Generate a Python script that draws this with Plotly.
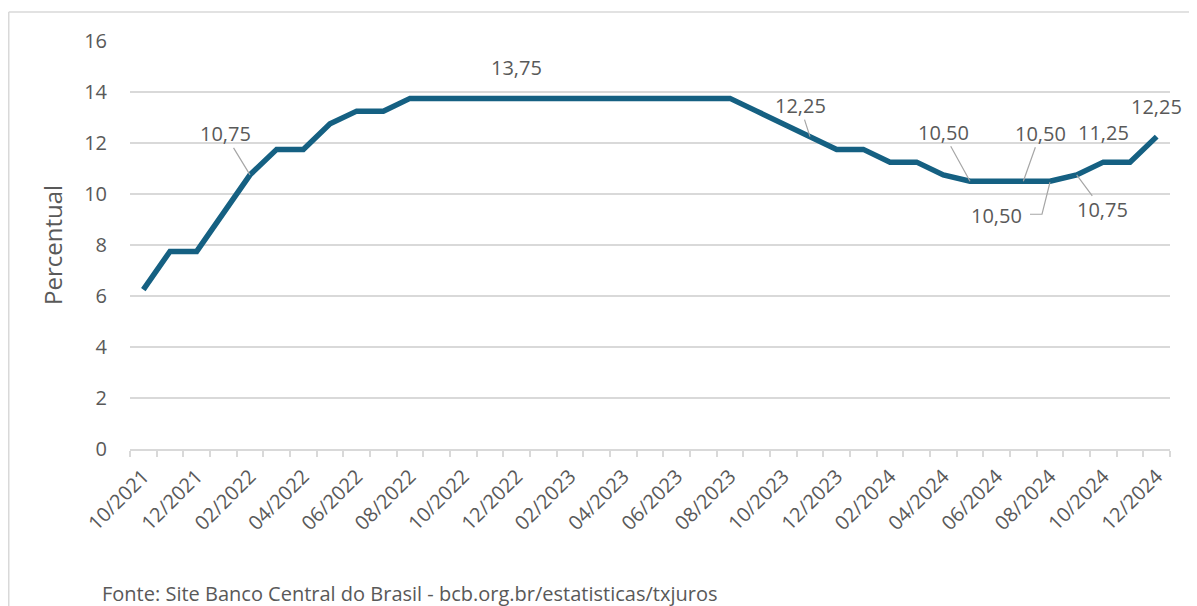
import plotly.graph_objects as go

months = ["10/2021", "11/2021", "12/2021",
          "01/2022", "02/2022", "03/2022", "04/2022", "05/2022", "06/2022",
          "07/2022", "08/2022", "09/2022", "10/2022", "11/2022", "12/2022",
          "01/2023", "02/2023", "03/2023", "04/2023", "05/2023", "06/2023",
          "07/2023", "08/2023", "09/2023", "10/2023", "11/2023", "12/2023",
          "01/2024", "02/2024", "03/2024", "04/2024", "05/2024", "06/2024",
          "07/2024", "08/2024", "09/2024", "10/2024", "11/2024", "12/2024"]

selic = [6.25, 7.75, 7.75,
         9.25, 10.75, 11.75, 11.75, 12.75, 13.25,
         13.25, 13.75, 13.75, 13.75, 13.75, 13.75,
         13.75, 13.75, 13.75, 13.75, 13.75, 13.75,
         13.75, 13.75, 13.25, 12.75, 12.25, 11.75,
         11.75, 11.25, 11.25, 10.75, 10.50, 10.50,
         10.50, 10.50, 10.75, 11.25, 11.25, 12.25]

# labelled points: month, label offset (px), leader line?
label_months = ["02/2022", "12/2022", "11/2023", "05/2024", "07/2024",
                "09/2024", "10/2024", "12/2024"]
label_dx = [-25, 0, -10, -27, 17, 26, 0, 0]
label_dy = [-41, -31, -31, -49, -48, 35, -30, -30]
label_leader = [True, False, True, True, True, True, False, False]

elbow_month = "08/2024"

TEXT = "#595959"
GRID = "#d9d9d9"
LINE = "#156082"
LEADER = "#a6a6a6"
FONT = "Open Sans"
LBL = 20

xs = list(range(len(months)))

def fmt(v):
    return f"{v:.2f}".replace(".", ",")

fig = go.Figure()
fig.add_trace(go.Scatter(
    x=xs, y=selic, mode="lines",
    line=dict(color=LINE, width=5.5, shape="linear"),
    hoverinfo="skip", showlegend=False,
))

annotations = []
for m, dx, dy, lead in zip(label_months, label_dx, label_dy, label_leader):
    i = months.index(m)
    if lead:
        annotations.append(dict(
            x=i, y=selic[i], xref="x", yref="y", text=fmt(selic[i]),
            showarrow=True, ax=dx, ay=dy, arrowhead=0, arrowwidth=1.2,
            arrowcolor=LEADER, standoff=0, borderpad=0,
            font=dict(family=FONT, size=LBL, color=TEXT)))
    else:
        annotations.append(dict(
            x=i, y=selic[i], xref="x", yref="y", text=fmt(selic[i]),
            showarrow=False, xshift=dx, yshift=-dy,
            font=dict(family=FONT, size=LBL, color=TEXT)))

ei = months.index(elbow_month)
annotations.append(dict(
    x=ei, y=selic[ei], xref="x", yref="y", text=fmt(selic[ei]),
    showarrow=False, xshift=-54, yshift=-34,
    font=dict(family=FONT, size=LBL, color=TEXT)))

annotations.append(dict(
    x=-0.0288, y=-0.355, xref="paper", yref="paper",
    xanchor="left", yanchor="middle", showarrow=False,
    text="Fonte: Site Banco Central do Brasil - bcb.org.br/estatisticas/txjuros",
    font=dict(family=FONT, size=20, color=TEXT)))

shapes = [
    dict(type="path", xref="x", yref="y", xsizemode="pixel", ysizemode="pixel",
         xanchor=ei, yanchor=selic[ei],
         path="M 0,-1 L -8,-33 L -20,-33",
         line=dict(color=LEADER, width=1.2)),
    # chart frame (left and top edges; the rest lies outside the picture)
    dict(type="line", xref="paper", yref="paper",
         x0=-0.1166, x1=-0.1166, y0=-0.6, y1=1.0711,
         line=dict(color=GRID, width=1.5), layer="below"),
    dict(type="line", xref="paper", yref="paper",
         x0=-0.1166, x1=1.2, y0=1.0711, y1=1.0711,
         line=dict(color=GRID, width=1.5), layer="below"),
]

# page body adds an 8px offset; the figure is sized to fit the window
fig.update_layout(
    width=1189, height=598,
    margin=dict(l=122, r=27, t=33, b=157),
    paper_bgcolor="white", plot_bgcolor="white",
    font=dict(family=FONT, color=TEXT),
    annotations=annotations, shapes=shapes,
    xaxis=dict(
        range=[-0.5, len(months) - 0.5],
        tickmode="array", tickvals=xs[::2], ticktext=months[::2],
        tickangle=-45, ticks="outside", ticklen=6, tickcolor="rgba(0,0,0,0)",
        tickfont=dict(family=FONT, size=20, color=TEXT),
        showgrid=False, zeroline=False,
        showline=True, linecolor=GRID, linewidth=1.5,
        minor=dict(tickmode="array", tickvals=[i - 0.5 for i in range(len(months) + 1)],
                   ticks="outside", ticklen=6, tickcolor=GRID, tickwidth=1.5,
                   showgrid=False),
    ),
    yaxis=dict(
        range=[0, 16], dtick=2, tick0=0,
        showgrid=True, gridcolor=GRID, gridwidth=1.5,
        zeroline=False, showline=False, ticks="",
        ticklabelstandoff=22,
        tickfont=dict(family=FONT, size=20, color=TEXT),
        title=dict(text="Percentual", standoff=14,
                   font=dict(family=FONT, size=24, color=TEXT)),
    ),
)

fig.write_html("out.html")
